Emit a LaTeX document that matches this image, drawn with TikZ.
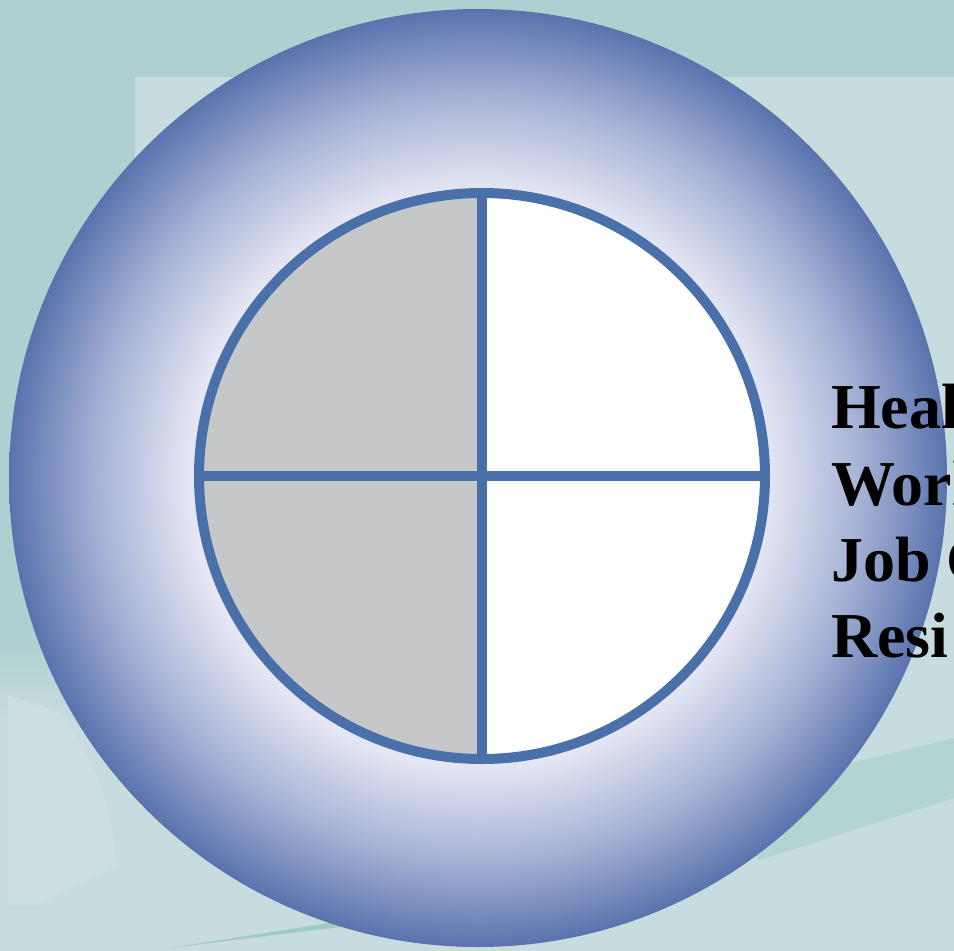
\documentclass[tikz,border=0pt]{standalone}
\usepackage{fontspec}
\setmainfont{Liberation Serif}
\definecolor{bgteal}{HTML}{AFD0D0}
\definecolor{bglight}{HTML}{C7DCDE}
\definecolor{bgfaint}{HTML}{CBDFE1}
\definecolor{bandteal}{HTML}{B2D4D2}
\definecolor{streak}{HTML}{9FCAC6}
\definecolor{ringlight}{HTML}{E4E6F3}
\definecolor{ringmid}{HTML}{A7B3D6}
\definecolor{ringdark}{HTML}{5A73AD}
\definecolor{quadblue}{HTML}{4A70AA}
\definecolor{quadgray}{HTML}{C6C7C9}
\pgfdeclareradialshading{ringshade}{\pgfpoint{0bp}{0bp}}{color(0bp)=(ringlight); color(15.4bp)=(ringlight); color(20.3bp)=(ringmid); color(25bp)=(ringdark); color(50bp)=(ringdark)}
\tikzset{
  quadline/.style={draw=quadblue, line width=10pt},
  labeltext/.style={anchor=base west, inner sep=0pt, font=\fontsize{64}{76}\selectfont\bfseries, text=black}
}
\begin{document}
\begin{tikzpicture}[x=1pt,y=-1pt]
\useasboundingbox (0,0) rectangle (954,951);
\clip (0,0) rectangle (954,951);
% background
\fill[bglight] (0,0) rectangle (954,951);
\fill[bgteal] (0,0) rectangle (954,77);
\fill[bgteal] (0,0) rectangle (135,640);
\shade[top color=bgteal, bottom color=bglight] (0,639) rectangle (135,720);
\fill[bglight, rounded corners=30pt] (135,77) rectangle (1100,1100);
\fill[bgfaint] (8,695) -- (60,712) .. controls (95,760) and (110,800) .. (117,865) -- (40,905) -- (8,905) -- cycle;
\fill[bandteal] (700,800) -- (954,738) -- (954,798) -- (760,860) -- cycle;
\fill[streak] (170,948) -- (380,915) -- (380,922) -- cycle;
% ring
\shade[shading=ringshade] (478,478) circle (469);
% inner circle
\coordinate (c) at (482,476);
\coordinate (top) at (482,193);
\coordinate (bot) at (482,759);
\coordinate (lft) at (199,476);
\coordinate (rgt) at (765,476);
\fill[quadgray] (c) -- (top) arc[start angle=-90, end angle=-270, radius=283] -- cycle;
\fill[white] (c) -- (top) arc[start angle=-90, end angle=90, radius=283] -- cycle;
\draw[quadline] (top) -- (bot);
\draw[quadline] (lft) -- (rgt);
\draw[quadline] (c) circle (283);
% labels
\node[labeltext] (l1) at (831,428) {Heal};
\node[labeltext] (l2) at (831,505) {Worl};
\node[labeltext] (l3) at (831,581) {Job C};
\node[labeltext] (l4) at (831,657) {Resi};
\end{tikzpicture}
\end{document}
